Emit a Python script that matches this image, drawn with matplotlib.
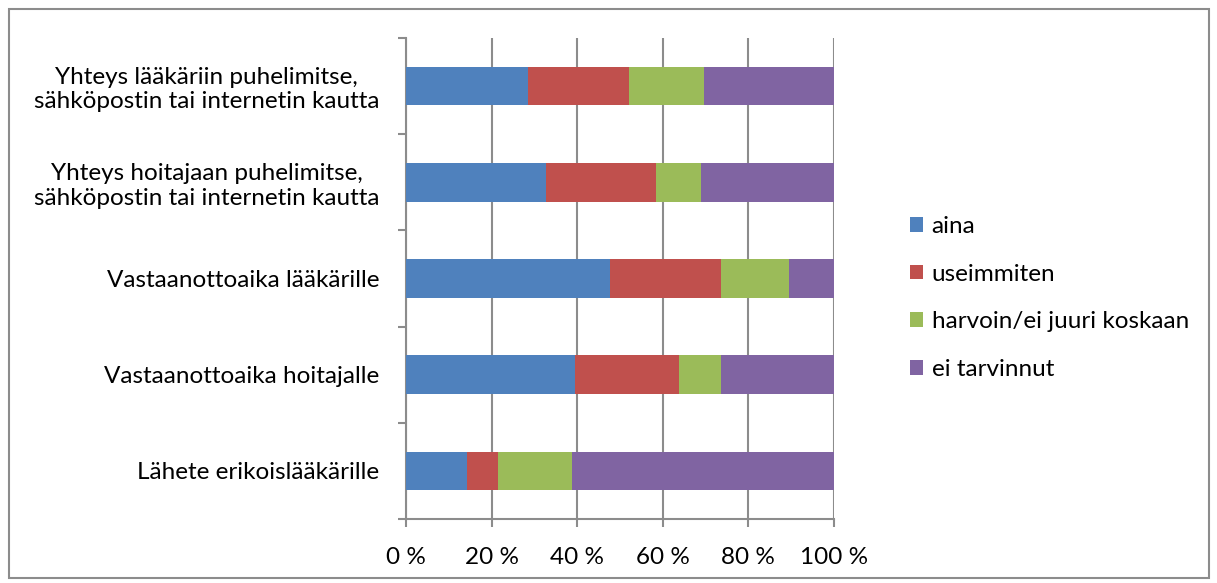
import matplotlib.pyplot as plt
from matplotlib.patches import Rectangle

# Survey categories, bottom to top as drawn
categories = [
    "Lähete erikoislääkärille",
    "Vastaanottoaika hoitajalle",
    "Vastaanottoaika lääkärille",
    "Yhteys hoitajaan puhelimitse,\nsähköpostin tai internetin kautta",
    "Yhteys lääkäriin puhelimitse,\nsähköpostin tai internetin kautta",
]
series = ["aina", "useimmiten", "harvoin/ei juuri koskaan", "ei tarvinnut"]
aina = [14.3, 39.4, 47.6, 32.6, 28.4]
useimmiten = [7.2, 24.3, 26.1, 25.7, 23.6]
harvoin = [17.2, 9.8, 15.7, 10.6, 17.6]
ei_tarvinnut = [61.3, 26.5, 10.6, 31.1, 30.4]
xticks = [0, 20, 40, 60, 80, 100]

colors = ["#4f81bd", "#c0504d", "#9bbb59", "#8064a2"]
grid_col = "#8c8c8c"
fs = 17.5

plt.rcParams["font.family"] = ["Lato", "DejaVu Sans"]

fig = plt.figure(figsize=(12.17, 5.83), dpi=100)
ax = fig.add_axes([406 / 1217, 1 - 519 / 583, 428 / 1217, 481 / 583])

y = range(len(categories))
left = [0] * len(categories)
for vals, name, col in zip([aina, useimmiten, harvoin, ei_tarvinnut], series, colors):
    ax.barh(y, vals, left=left, height=0.4, color=col, label=name, zorder=3)
    left = [a + b for a, b in zip(left, vals)]

ax.set_xlim(0, 100)
ax.set_ylim(-0.5, len(categories) - 0.5)
ax.set_xticks(xticks)
ax.set_xticklabels([f"{v} %" for v in xticks], fontsize=fs)
ax.set_yticks(list(y))
ax.set_yticklabels(categories, fontsize=fs, multialignment="center")
ax.set_yticks([i - 0.5 for i in range(len(categories) + 1)], minor=True)
ax.tick_params(axis="y", which="major", length=0, pad=19)
ax.tick_params(axis="y", which="minor", length=6, width=1.5, color=grid_col)
ax.tick_params(axis="x", length=6, width=1.5, color=grid_col, pad=14)
ax.grid(axis="x", color=grid_col, linewidth=1.5, zorder=0)

for s in ["top", "right"]:
    ax.spines[s].set_visible(False)
for s in ["left", "bottom"]:
    ax.spines[s].set_color(grid_col)
    ax.spines[s].set_linewidth(1.5)

ax.legend(loc="center left", bbox_to_anchor=(888 / 1217, 285 / 583),
          bbox_transform=fig.transFigure, frameon=False, fontsize=fs,
          handlelength=0.55, handleheight=0.55, handletextpad=0.35,
          labelspacing=1.1)

# outer chart border
fig.patches.append(Rectangle((9 / 1217, 5 / 583), 1200 / 1217, 569 / 583,
                             transform=fig.transFigure, fill=False,
                             edgecolor="#8c8c8c", linewidth=1.5))

fig.savefig("out.png", dpi=100)
